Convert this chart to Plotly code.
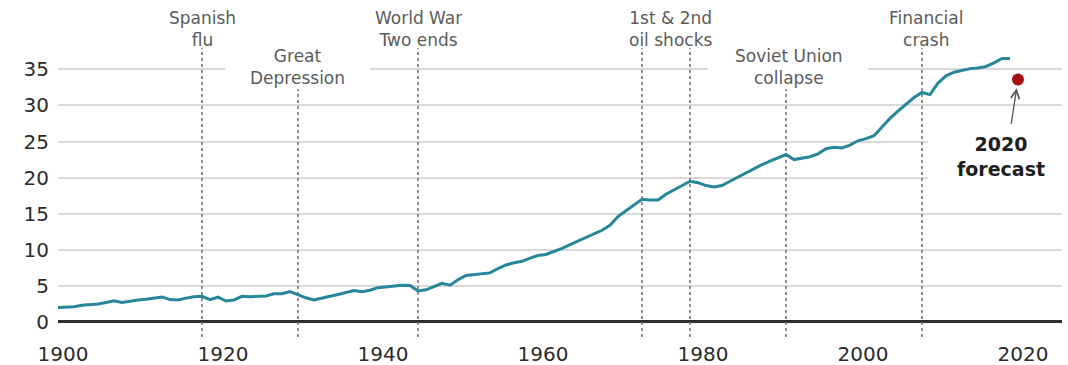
import plotly.graph_objects as go

# ---------------- data ----------------
years = list(range(1900, 2020))
emissions = [
    2.0, 2.0, 2.1, 2.3, 2.35, 2.5, 2.7, 2.95, 2.7, 2.9,          # 1900s
    3.05, 3.15, 3.25, 3.45, 3.1, 3.05, 3.3, 3.5, 3.55, 3.1,      # 1910s
    3.45, 2.9, 3.05, 3.55, 3.5, 3.6, 3.6, 3.9, 3.9, 4.2,         # 1920s
    3.75, 3.35, 3.05, 3.25, 3.55, 3.8, 4.05, 4.35, 4.2, 4.4,     # 1930s
    4.75, 4.85, 4.9, 5.1, 5.05, 4.3, 4.45, 4.9, 5.35, 5.1,       # 1940s
    5.85, 6.45, 6.6, 6.65, 6.8, 7.4, 7.9, 8.2, 8.4, 8.85,        # 1950s
    9.2, 9.35, 9.75, 10.2, 10.7, 11.2, 11.7, 12.2, 12.7, 13.4,   # 1960s
    14.6, 15.4, 16.2, 17.0, 16.9, 16.9, 17.7, 18.3, 18.9, 19.5,  # 1970s
    19.3, 18.9, 18.7, 18.9, 19.5, 20.1, 20.6, 21.2, 21.8, 22.3,  # 1980s
    22.7, 23.2, 22.5, 22.7, 22.9, 23.3, 24.0, 24.2, 24.1, 24.5,  # 1990s
    25.1, 25.4, 25.8, 27.0, 28.2, 29.2, 30.2, 31.1, 31.8, 31.5,  # 2000s
    33.1, 34.1, 34.6, 34.9, 35.1, 35.2, 35.4, 35.9, 36.5, 36.5,  # 2010s
]
forecast_year = [2020]
forecast_value = [33.6]

x_ticks = [1900, 1920, 1940, 1960, 1980, 2000, 2020]
x_tick_labels = ["1900", "1920", "1940", "1960", "1980", "2000", "2020"]
y_ticks = [0, 5, 10, 15, 20, 25, 30, 35]
y_tick_labels = ["0", "5", "10", "15", "20", "25", "30", "35"]

event_years = [1918, 1930, 1945, 1973, 1979, 1991, 2008]
event_low = [False, True, False, False, False, True, False]  # label sits lower

event_labels = ["Spanish<br>flu", "Great<br>Depression", "World War<br>Two ends",
                "1st & 2nd<br>oil shocks", "Soviet Union<br>collapse", "Financial<br>crash"]
event_label_x = [1918.0, 1929.9, 1945.0, 1976.5, 1991.4, 2008.5]
event_label_low = [False, True, False, False, True, False]

# ---------------- layout helpers ----------------
W, H = 1068, 365
ML, MR, MT, MB = 58, 6, 8, 25
Y_MIN, Y_MAX = -2.5, 43.5
X_MIN, X_MAX = 1900, 2025.5
ppu_y = (H - MT - MB) / (Y_MAX - Y_MIN)
ppu_x = (W - ML - MR) / (X_MAX - X_MIN)


def py2v(py):
    return Y_MIN + (H - MB - py) / ppu_y


def px2yr(px):
    return X_MIN + (px - ML) / ppu_x


LINE_COLOR = "#26879a"
TEXT_GREY = "#5b5b5b"
FONT = "DejaVu Sans"

fig = go.Figure()
fig.add_trace(go.Scatter(
    x=years, y=emissions, mode="lines",
    line=dict(color=LINE_COLOR, width=3),
    hoverinfo="skip", showlegend=False,
))
fig.add_trace(go.Scatter(
    x=forecast_year, y=forecast_value, mode="markers",
    marker=dict(color="#a50f12", size=12),
    hoverinfo="skip", showlegend=False,
))

shapes = []
# white masks that interrupt gridlines behind labels
for (x0, x1, y0, y1) in [(225, 370, 48, 88), (708, 868, 48, 88), (928, 1070, 133, 182)]:
    shapes.append(dict(type="rect", xref="x", yref="y",
                       x0=px2yr(x0), x1=px2yr(x1), y0=py2v(y1), y1=py2v(y0),
                       fillcolor="white", line=dict(width=0), layer="between"))
# dotted event lines
for yr, low in zip(event_years, event_low):
    shapes.append(dict(type="line", xref="x", yref="y",
                       x0=yr, x1=yr, y0=py2v(337), y1=py2v(89 if low else 48),
                       line=dict(color="#6f6f6f", width=1.5, dash="dot"),
                       layer="between"))

annotations = []
for text, xc, low in zip(event_labels, event_label_x, event_label_low):
    annotations.append(dict(
        x=xc, y=py2v(67 if low else 29), xref="x", yref="y",
        text=text, showarrow=False, xanchor="center", yanchor="middle",
        align="center",
        font=dict(family=FONT, size=17, color=TEXT_GREY),
    ))

# forecast arrow + label
annotations.append(dict(
    x=forecast_year[0], y=forecast_value[0], xref="x", yref="y",
    ax=-7, ay=46, axref="pixel", ayref="pixel",
    text="", showarrow=True, arrowhead=5, arrowsize=1.3, arrowwidth=1.3,
    arrowcolor="#555555", standoff=9,
))
annotations.append(dict(
    x=px2yr(1001), y=py2v(156), xref="x", yref="y",
    text="<b>2020</b><br><b>forecast</b>",
    showarrow=False, xanchor="center", yanchor="middle", align="center",
    font=dict(family=FONT, size=19, color="#1e1e1e"),
))

fig.update_layout(
    width=W, height=H,
    margin=dict(l=ML, r=MR, t=MT, b=MB, pad=0, autoexpand=False),
    paper_bgcolor="white", plot_bgcolor="white",
    showlegend=False,
    shapes=shapes, annotations=annotations,
    font=dict(family=FONT, color="#2b2b2b"),
    xaxis=dict(
        range=[X_MIN, X_MAX], tickmode="array",
        tickvals=x_ticks, ticktext=x_tick_labels,
        showgrid=False, zeroline=False, showline=False, ticks="",
        tickfont=dict(family=FONT, size=20, color="#2b2b2b"),
        ticklabelshift=5, automargin=False, fixedrange=True,
    ),
    yaxis=dict(
        range=[Y_MIN, Y_MAX], tickmode="array",
        tickvals=y_ticks, ticktext=y_tick_labels,
        showgrid=True, gridcolor="#d9d9d9", gridwidth=1.5,
        zeroline=True, zerolinecolor="#2e2e2e", zerolinewidth=2.5,
        showline=False, ticks="",
        tickfont=dict(family=FONT, size=20, color="#2b2b2b"),
        ticklabelstandoff=8, automargin=False, fixedrange=True,
    ),
)

fig.write_html("out.html", config={"displayModeBar": False})
